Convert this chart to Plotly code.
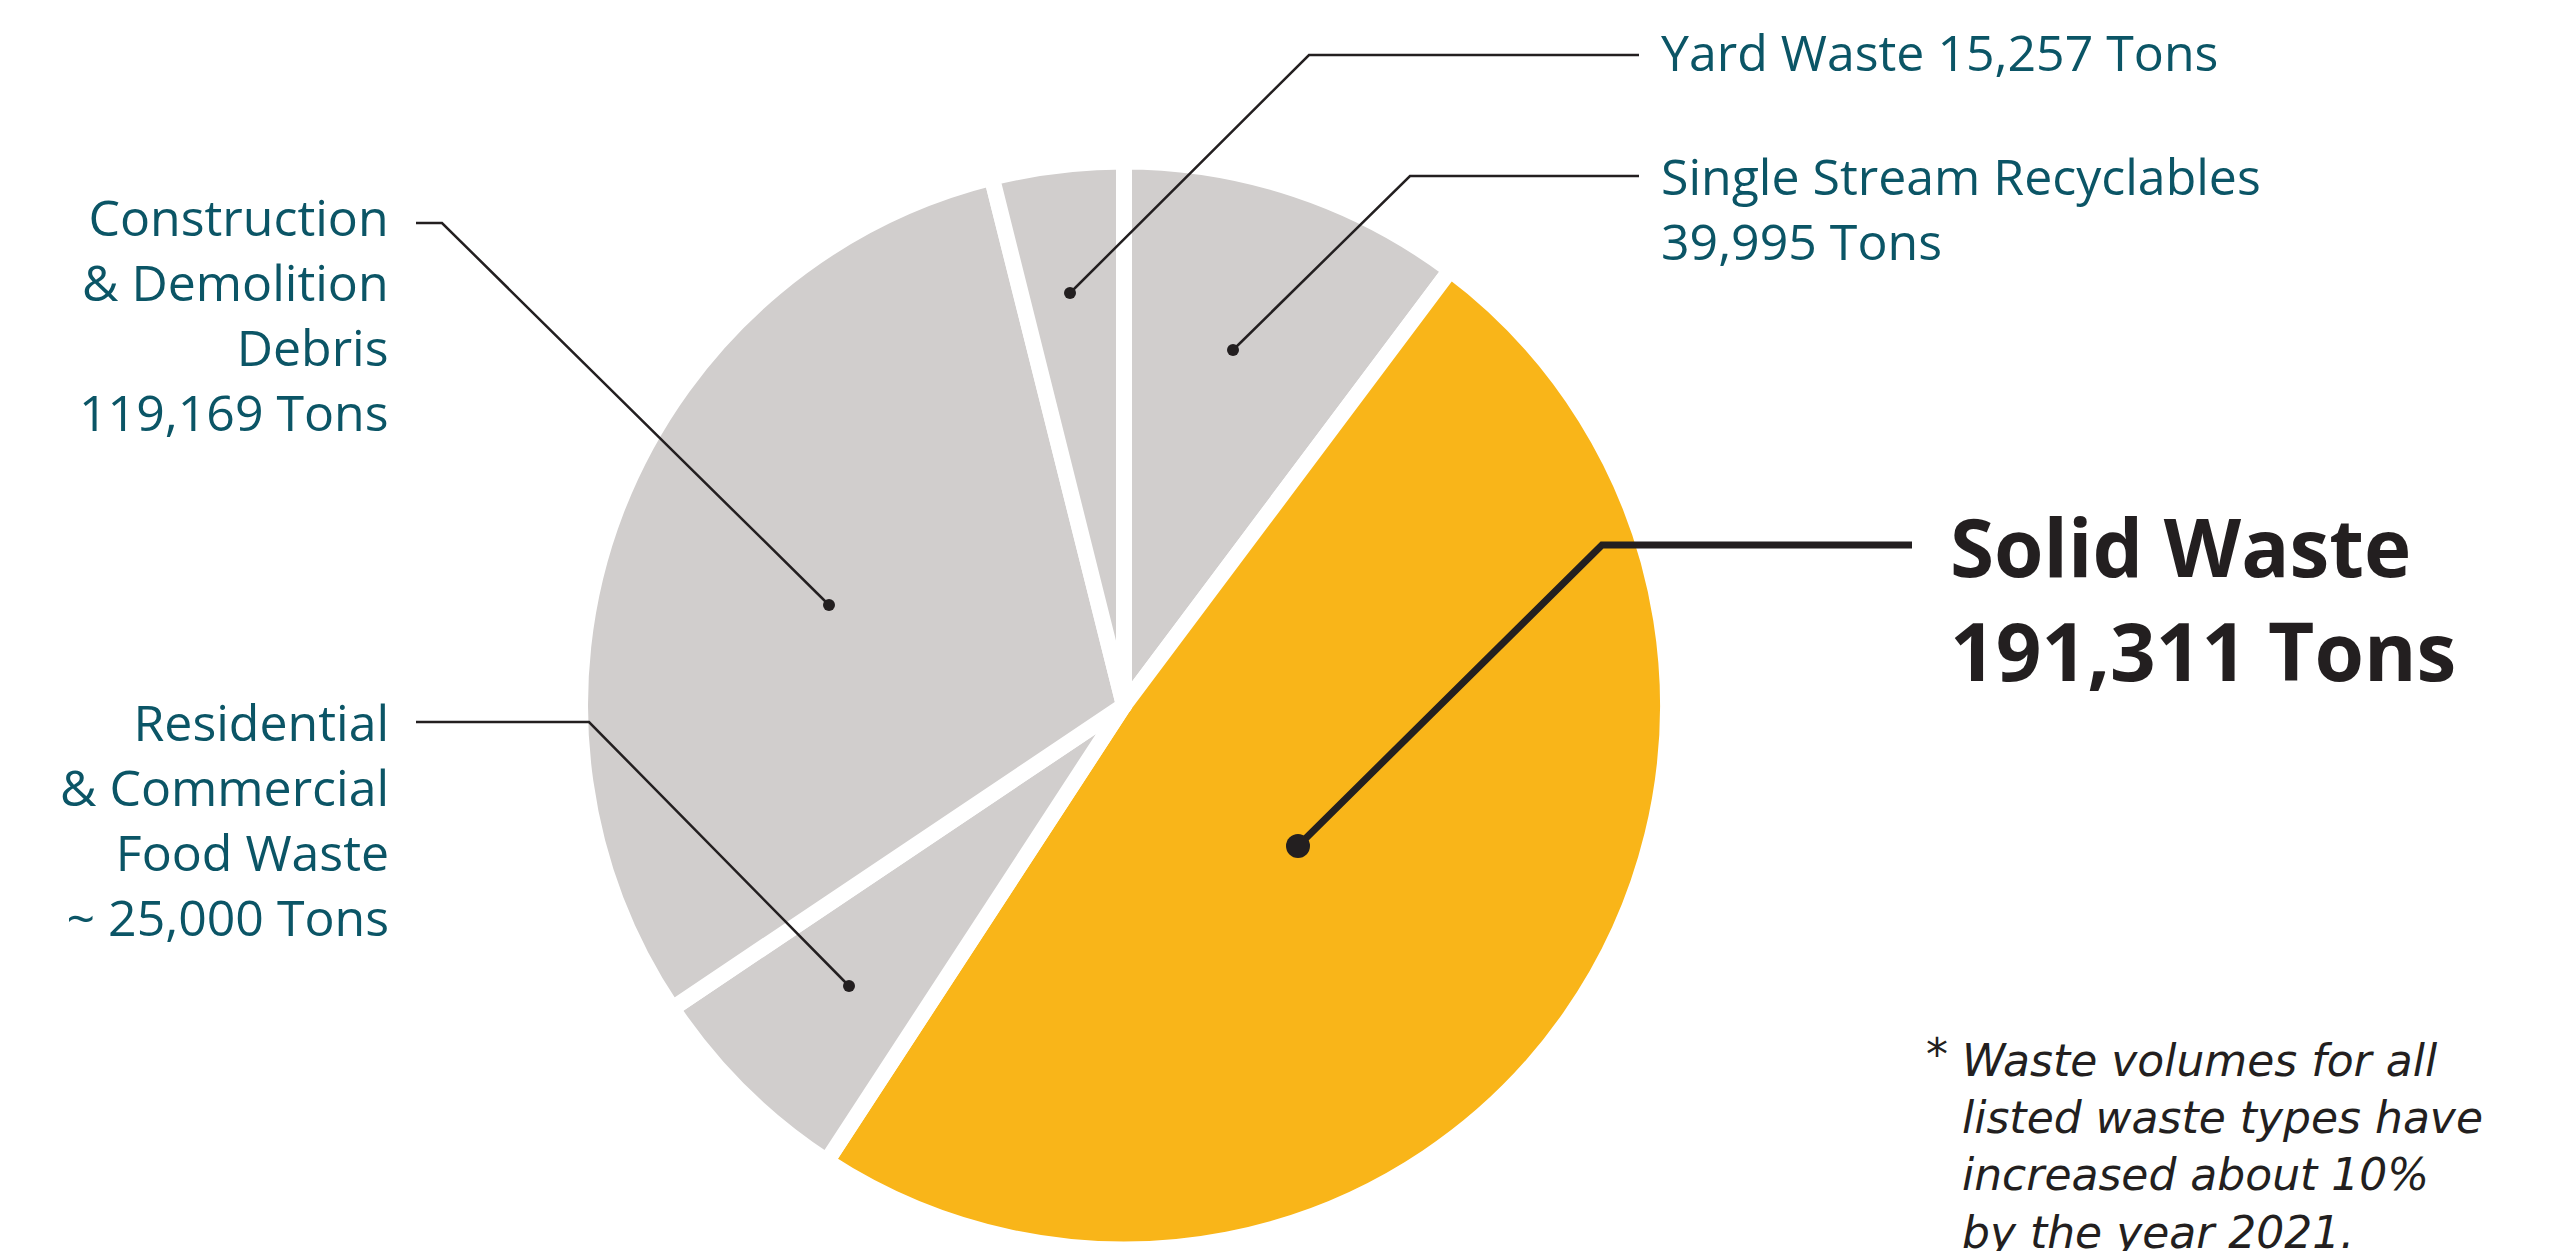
import plotly.graph_objects as go

# ---- data ----
categories = ["Single Stream Recyclables", "Solid Waste",
              "Residential & Commercial Food Waste",
              "Construction & Demolition Debris", "Yard Waste"]
tons = [39995, 191311, 25000, 119169, 15257]
slice_colors = ["#d1cecd", "#f9b519", "#d1cecd", "#d1cecd", "#d1cecd"]

label_texts = {
    "Yard Waste": "Yard Waste 15,257 Tons",
    "Single Stream": "Single Stream Recyclables<br>39,995 Tons",
    "Construction": "Construction<br>& Demolition<br>Debris<br>119,169 Tons",
    "Residential": "Residential<br>& Commercial<br>Food Waste<br>~ 25,000 Tons",
}
solid_lines = ["Solid Waste", "191,311 Tons"]
footnote_lines = ["Waste volumes for all", "listed waste types have",
                  "increased about 10%", "by the year 2021."]

W, H = 2550, 1251
OFF = 8                     # default page body margin
FW, FH = W - OFF, H - OFF
TEAL = "#0b5566"
DARK = "#231f20"


def px(x):
    return (x - OFF) / FW


def py(y):
    return 1 - (y - OFF) / FH


# pie geometry (page pixels)
CX, CY, R = 1124, 705.5, 544

fig = go.Figure(go.Pie(
    labels=categories, values=tons, sort=False, direction="clockwise",
    rotation=0,
    marker=dict(colors=slice_colors, line=dict(color="white", width=16)),
    textinfo="none", hoverinfo="skip", showlegend=False,
    domain=dict(x=[px(CX - R), px(CX + R)], y=[max(0, py(CY + R)), py(CY - R)]),
))

shapes = []
annotations = []


def leader(points, width, dot_r):
    path = "M " + " L ".join(f"{px(x)},{py(y)}" for x, y in points)
    shapes.append(dict(type="path", path=path, xref="paper", yref="paper",
                       line=dict(color=DARK, width=width)))
    dx, dy = points[-1]
    shapes.append(dict(type="circle", xref="paper", yref="paper",
                       x0=px(dx - dot_r), x1=px(dx + dot_r),
                       y0=py(dy + dot_r), y1=py(dy - dot_r),
                       fillcolor=DARK, line=dict(width=0)))


# leader lines: label end -> elbow -> dot
leader([(1639, 55), (1309, 55), (1070, 293)], 2.5, 6)
leader([(1639, 176), (1410, 176), (1233, 350)], 2.5, 6)
leader([(416, 223), (442, 223), (829, 605)], 2.5, 6)
leader([(416, 722), (589, 722), (849, 986)], 2.5, 6)
leader([(1912, 545), (1602, 545), (1298, 846)], 7, 12)

font_main = "Open Sans, Lato, sans-serif"


def label(text, x, y, xanchor, align, size, color, family=font_main):
    annotations.append(dict(text=text, x=px(x), y=py(y), xref="paper", yref="paper",
                            xanchor=xanchor, yanchor="middle", align=align,
                            showarrow=False,
                            font=dict(family=family, size=size, color=color)))


label(label_texts["Yard Waste"], 1659, 52, "left", "left", 50, TEAL)
label(label_texts["Single Stream"], 1659, 208, "left", "left", 50, TEAL)
label(label_texts["Construction"], 391, 315, "right", "right", 50, TEAL)
label(label_texts["Residential"], 391, 819, "right", "right", 50, TEAL)

label(f"<b>{solid_lines[0]}</b>", 1948, 545, "left", "left", 80, DARK)
label(f"<b>{solid_lines[1]}</b>", 1948, 649, "left", "left", 80, DARK)

foot_font = "DejaVu Sans, sans-serif"
label("<i>*</i>", 1924, 1054, "left", "left", 44, DARK, foot_font)
label("<i>" + "<br>".join(footnote_lines) + "</i>", 1960, 1146, "left", "left", 44,
      DARK, foot_font)

fig.update_layout(
    width=FW, height=FH, margin=dict(l=0, r=0, t=0, b=0),
    paper_bgcolor="white", plot_bgcolor="white",
    shapes=shapes, annotations=annotations, showlegend=False,
)

fig.write_html("out.html")
